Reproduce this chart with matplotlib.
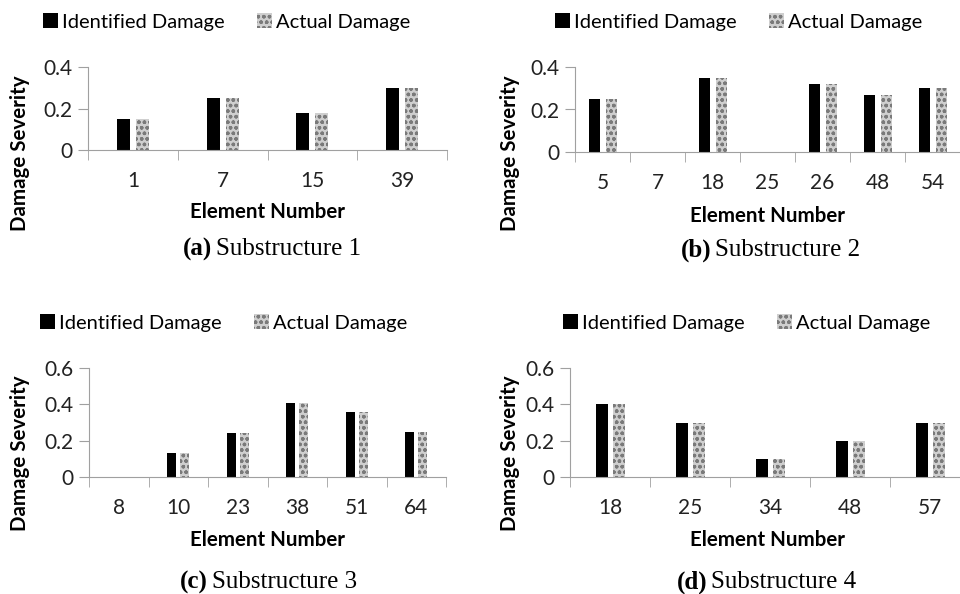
import numpy as np
import matplotlib
matplotlib.use("Agg")
import matplotlib.pyplot as plt
from matplotlib.patches import Patch

# datos de cada subestructura
elem_a = ['1', '7', '15', '39']
ident_a = [0.15, 0.25, 0.18, 0.30]
actual_a = [0.15, 0.25, 0.18, 0.30]

elem_b = ['5', '7', '18', '25', '26', '48', '54']
ident_b = [0.25, 0.0, 0.35, 0.0, 0.32, 0.27, 0.30]
actual_b = [0.25, 0.0, 0.35, 0.0, 0.32, 0.27, 0.30]

elem_c = ['8', '10', '23', '38', '51', '64']
ident_c = [0.0, 0.13, 0.24, 0.41, 0.36, 0.25]
actual_c = [0.0, 0.13, 0.24, 0.41, 0.36, 0.25]

elem_d = ['18', '25', '34', '48', '57']
ident_d = [0.40, 0.30, 0.10, 0.20, 0.30]
actual_d = [0.40, 0.30, 0.10, 0.20, 0.30]

ymax = [0.4, 0.4, 0.6, 0.6]
letras = ['a', 'b', 'c', 'd']

W, H = 960, 594
fig = plt.figure(figsize=(9.6, 5.94), dpi=100)

fuente = 'Lato'
gris_eje = '#a0a0a0'


def rect(l, r, t, b):
    return [l / W, 1 - b / H, (r - l) / W, (b - t) / H]


# (izq, der, arriba, abajo) de cada eje en pixeles, ancho de barra y desplazamiento en px
paneles = [
    dict(r=(88, 447, 67, 150), bw=13, off=9.5, leg=(43, 22), ylab=(20, 153), xl=212, xc=268, cap=(212, 249)),
    dict(r=(575, 960, 67, 152), bw=11, off=8.5, leg=(555, 22), ylab=(510, 153), xl=216, xc=768, cap=(711, 250)),
    dict(r=(89, 446, 368, 477), bw=9, off=6.3, leg=(40, 323), ylab=(20, 453), xl=540, xc=268, cap=(208, 582)),
    dict(r=(570, 970, 368, 477), bw=12, off=8.5, leg=(563, 323), ylab=(510, 453), xl=540, xc=768, cap=(707, 582)),
]

datos = [(elem_a, ident_a, actual_a), (elem_b, ident_b, actual_b),
         (elem_c, ident_c, actual_c), (elem_d, ident_d, actual_d)]

for i, (p, (elems, ide, act)) in enumerate(zip(paneles, datos)):
    l, r, t, b = p['r']
    ax = fig.add_axes(rect(l, r, t, b))
    n = len(elems)
    x = np.arange(n)
    cat_px = (r - l) / n
    bw = p['bw'] / cat_px
    off = p['off'] / cat_px
    ax.bar(x - off, ide, width=bw, color='black', linewidth=0)
    ax.bar(x + off, act, width=bw, color='#cfcfcf', edgecolor='#7a7a7a',
           hatch='ooo', linewidth=0)
    ax.set_xlim(-0.5, n - 0.5)
    ax.set_ylim(0, ymax[i])
    ax.set_yticks(np.arange(0, ymax[i] + 0.01, 0.2))
    ax.set_yticklabels(['0'] + ['%.1f' % v for v in np.arange(0.2, ymax[i] + 0.01, 0.2)])
    ax.set_xticks(x)
    ax.set_xticklabels(elems)
    ax.set_xticks(np.arange(n + 1) - 0.5, minor=True)
    ax.tick_params(axis='x', which='major', length=0, pad=15)
    ax.tick_params(axis='x', which='minor', length=7, color=gris_eje, direction='out')
    ax.tick_params(axis='y', length=7, color=gris_eje, pad=4)
    for lab in ax.get_xticklabels() + ax.get_yticklabels():
        lab.set_fontfamily(fuente)
        lab.set_fontsize(15)
        lab.set_color('#222222')
    for s in ['top', 'right']:
        ax.spines[s].set_visible(False)
    ax.spines['left'].set_color(gris_eje)
    ax.spines['bottom'].set_color(gris_eje)
    ax.patch.set_alpha(0)

    # etiquetas de ejes
    fig.text(p['ylab'][0] / W, 1 - p['ylab'][1] / H, 'Damage Severity', rotation=90,
             ha='center', va='center', fontfamily=fuente, fontweight='bold', fontsize=14.8)
    fig.text(p['xc'] / W, 1 - p['xl'] / H, 'Element Number',
             ha='center', va='center', fontfamily=fuente, fontweight='bold', fontsize=14.8)

    # leyenda
    handles = [Patch(facecolor='black', edgecolor='none'),
               Patch(facecolor='#cfcfcf', edgecolor='#7a7a7a', hatch='ooo', linewidth=0)]
    ax.legend(handles, ['Identified Damage', 'Actual Damage'], ncol=2,
              loc='center left', bbox_to_anchor=(p['leg'][0] / W, 1 - p['leg'][1] / H),
              bbox_transform=fig.transFigure, frameon=False, borderpad=0,
              borderaxespad=0, handlelength=0.75, handleheight=0.75,
              handletextpad=0.2, columnspacing=1.6,
              prop={'family': fuente, 'size': 14.5})

    # titulo de la subfigura
    cx, cy = p['cap']
    fig.text(cx / W, 1 - cy / H, '(%s)' % letras[i], ha='right', va='center',
             fontfamily='Liberation Serif', fontweight='bold', fontsize=18)
    fig.text((cx + 4) / W, 1 - cy / H, 'Substructure %d' % (i + 1), ha='left', va='center',
             fontfamily='Liberation Serif', fontsize=18)

fig.savefig('out.png', dpi=100)
